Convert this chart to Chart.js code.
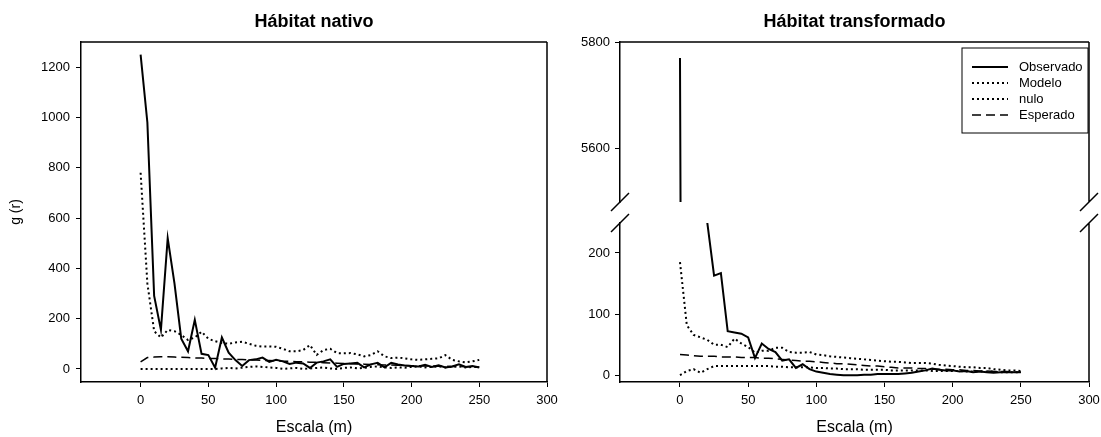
<!DOCTYPE html>
<html>
<head>
<meta charset="utf-8">
<title>g(r) - Hábitat nativo / transformado</title>
<script src="https://cdn.jsdelivr.net/npm/chart.js@4.4.1/dist/chart.umd.min.js"></script>
<style>
  html, body { margin: 0; padding: 0; background: #fff; }
  #wrap { position: relative; width: 1101px; height: 437px; }
  canvas { position: absolute; top: 0; }
  #nativo { left: 0; }
  #transformado { left: 560px; }
</style>
</head>
<body>
<div id="wrap">
  <canvas id="nativo" width="560" height="437"></canvas>
  <canvas id="transformado" width="541" height="437"></canvas>
</div>
<script>
// distance classes (m)
const escala = [0, 5, 10, 15, 20, 25, 30, 35, 40, 45, 50, 55, 60, 65, 70, 75, 80, 85, 90, 95,
  100, 105, 110, 115, 120, 125, 130, 135, 140, 145, 150, 155, 160, 165, 170, 175, 180, 185, 190, 195,
  200, 205, 210, 215, 220, 225, 230, 235, 240, 245, 250];

// Hábitat nativo
const nativoObservado = [1250, 980, 290, 155, 520, 340, 120, 70, 195, 60, 55, 5, 125, 65, 35, 12, 35, 38, 45, 28,
  36, 30, 20, 25, 22, 4, 25, 30, 38, 8, 20, 22, 24, 6, 18, 24, 6, 24, 18, 14,
  12, 10, 16, 8, 14, 6, 10, 18, 8, 12, 6];
const nativoModelo = [780, 340, 150, 125, 155, 150, 135, 115, 125, 148, 120, 110, 103, 100, 105, 108, 100, 92, 89, 89,
  88, 80, 70, 70, 75, 95, 56, 75, 80, 63, 62, 63, 58, 50, 55, 70, 50, 43, 45, 42,
  38, 36, 38, 40, 42, 55, 36, 30, 26, 30, 36];
const nativoNulo = [0, 0, 0, 0, 0, 0, 0, 0, 0, 0, 0, 0, 2, 4, 2, 5, 8, 10, 8, 6,
  4, 0, 2, 4, 0, 2, 4, 6, 2, 0, 4, 6, 2, 4, 8, 10, 6, 4, 6, 5,
  8, 10, 6, 8, 10, 6, 8, 10, 6, 8, 8];
const nativoEsperado = [28, 45, 47, 48, 48, 47, 46, 45, 44, 43, 42, 41, 40, 39, 38, 37, 36, 35, 34, 33,
  32, 31, 30, 29, 28, 27, 26, 25, 24, 23, 22, 21, 20, 19, 18, 17, 16, 16, 15, 14,
  13, 13, 12, 12, 11, 11, 10, 10, 9, 9, 8];

// Hábitat transformado
const transfObservado = [5770, 2400, 900, 420, 250, 163, 167, 72, 70, 68, 62, 28, 52, 43, 38, 24, 26, 12, 18, 10,
  6, 4, 2, 1, 0, 0, 0, 1, 1, 2, 2, 2, 2, 3, 4, 6, 8, 11, 9, 8,
  8, 6, 7, 5, 6, 5, 4, 5, 5, 5, 5];
const transfModelo = [185, 82, 66, 62, 58, 50, 50, 46, 60, 52, 46, 37, 40, 40, 45, 45, 38, 37, 37, 38,
  34, 33, 31, 30, 29, 28, 27, 26, 25, 24, 23, 22, 22, 21, 20, 20, 20, 19, 17, 16,
  15, 14, 13, 13, 12, 12, 10, 9, 8, 8, 7];
const transfNulo = [0, 7, 10, 4, 10, 15, 15, 15, 15, 15, 15, 15, 15, 15, 14, 14, 13, 13, 13, 13,
  12, 12, 11, 11, 10, 10, 10, 9, 9, 9, 9, 8, 8, 8, 8, 8, 8, 7, 7, 7,
  7, 7, 6, 6, 6, 6, 6, 5, 5, 5, 5];
const transfEsperado = [34, 33, 32, 31, 31, 31, 30, 30, 30, 29, 29, 29, 28, 28, 27, 26, 25, 24, 23, 23,
  22, 21, 20, 19, 19, 18, 17, 16, 15, 15, 14, 13, 12, 12, 12, 11, 11, 10, 10, 10,
  9, 9, 8, 8, 7, 7, 6, 6, 6, 5, 5];

const xTicks = { min: -44, max: 300, step: 50 };

Chart.defaults.font.family = "'Liberation Sans', Arial, Helvetica, sans-serif";
Chart.defaults.color = '#000';

function toPoints(ys) {
  return escala.map((x, i) => ({ x: x, y: ys[i] }));
}

const styles = {
  Observado: { borderColor: '#000', borderWidth: 2 },
  Modelo: { borderColor: '#000', borderWidth: 2, borderDash: [2, 3] },
  nulo: { borderColor: '#000', borderWidth: 2, borderDash: [2, 3] },
  Esperado: { borderColor: '#000', borderWidth: 1.5, borderDash: [9, 5] }
};

function serie(label, values, axis, extra) {
  return Object.assign({
    label: label,
    data: toPoints(values),
    yAxisID: axis,
    pointRadius: 0,
    pointHoverRadius: 0,
    tension: 0,
    fill: false
  }, styles[label], extra || {});
}

// plain numbers, no thousands separator
const plain = v => String(v);

// box lines on top / right, with axis break marks where needed
const framePlugin = {
  id: 'frame',
  afterDraw(chart, args, opts) {
    const ctx = chart.ctx;
    const a = chart.chartArea;
    ctx.save();
    ctx.strokeStyle = '#000';
    ctx.lineWidth = 1.5;
    ctx.beginPath();
    ctx.moveTo(a.left, a.top);
    ctx.lineTo(a.right, a.top);
    if (opts.broken) {
      const hi = chart.scales.yHigh;
      const lo = chart.scales.yLow;
      ctx.moveTo(a.right, hi.top);
      ctx.lineTo(a.right, hi.bottom);
      ctx.moveTo(a.right, lo.top);
      ctx.lineTo(a.right, lo.bottom);
      [a.left, a.right].forEach(function (x) {
        ctx.moveTo(x - 9, hi.bottom + 9);
        ctx.lineTo(x + 9, hi.bottom - 9);
        ctx.moveTo(x - 9, lo.top + 9);
        ctx.lineTo(x + 9, lo.top - 9);
      });
    } else {
      ctx.moveTo(a.right, a.top);
      ctx.lineTo(a.right, a.bottom);
    }
    ctx.stroke();
    ctx.restore();
  }
};

// legend drawn inside the plot, top right
const boxLegend = {
  id: 'boxLegend',
  afterDraw(chart, args, opts) {
    if (!opts.display) return;
    const ctx = chart.ctx;
    const a = chart.chartArea;
    const items = chart.data.datasets.filter(d => !d.noLegend);
    const right = a.right - 1;
    const left = right - 126;
    const top = a.top + 6;
    ctx.save();
    ctx.fillStyle = '#fff';
    ctx.fillRect(left, top, right - left, 85);
    ctx.strokeStyle = '#000';
    ctx.lineWidth = 1;
    ctx.strokeRect(left, top, right - left, 85);
    ctx.font = "13px 'Liberation Sans', Arial, sans-serif";
    ctx.textBaseline = 'middle';
    ctx.fillStyle = '#000';
    items.forEach(function (d, i) {
      const y = top + 19 + i * 16;
      ctx.setLineDash(d.borderDash || []);
      ctx.lineWidth = d.borderWidth;
      ctx.beginPath();
      ctx.moveTo(left + 10, y);
      ctx.lineTo(left + 46, y);
      ctx.stroke();
      ctx.setLineDash([]);
      ctx.fillText(d.label, left + 57, y);
    });
    ctx.restore();
  }
};

function xScale() {
  return {
    type: 'linear',
    min: xTicks.min,
    max: xTicks.max,
    border: { color: '#000', width: 1.5 },
    grid: { drawOnChartArea: false, tickLength: 5, color: '#000' },
    ticks: { stepSize: xTicks.step, includeBounds: false, padding: 6, maxRotation: 0, font: { size: 13 }, callback: plain },
    title: { display: true, text: 'Escala (m)', font: { size: 16 }, padding: { top: 0, bottom: 0 } },
    afterFit(s) {
      s.height = 55;
      // the layout padding already leaves room for the "300" label
      s.paddingLeft = 0;
      s.paddingRight = 0;
    }
  };
}

function yScale(min, max, step, width, extra) {
  return Object.assign({
    type: 'linear',
    position: 'left',
    min: min,
    max: max,
    border: { color: '#000', width: 1.5 },
    grid: { drawOnChartArea: false, tickLength: 5, color: '#000' },
    ticks: { stepSize: step, includeBounds: false, padding: 5, font: { size: 13 }, callback: plain },
    afterFit(s) { s.width = width; }
  }, extra || {});
}

function titleOpts(text) {
  return {
    display: true,
    text: text,
    fullSize: false,
    color: '#000',
    font: { size: 18, weight: 'bold' },
    padding: { top: 11, bottom: 9.4 }
  };
}

new Chart(document.getElementById('nativo'), {
  type: 'line',
  data: {
    datasets: [
      serie('Observado', nativoObservado, 'y'),
      serie('Modelo', nativoModelo, 'y'),
      serie('nulo', nativoNulo, 'y'),
      serie('Esperado', nativoEsperado, 'y')
    ]
  },
  options: {
    responsive: false,
    animation: false,
    events: [],
    layout: { padding: { left: 0, right: 13, top: 0, bottom: 0 } },
    scales: {
      x: xScale(),
      y: yScale(-52, 1300, 200, 81, {
        ticks: { stepSize: 200, includeBounds: false, padding: 6, font: { size: 13 }, callback: plain },
        title: { display: true, text: 'g (r)', font: { size: 14 }, padding: { top: 8, bottom: 0 } }
      })
    },
    plugins: {
      legend: { display: false },
      tooltip: { enabled: false },
      title: titleOpts('Hábitat nativo'),
      frame: { broken: false },
      boxLegend: { display: false }
    }
  },
  plugins: [framePlugin, boxLegend]
});

// left-side stacked scales are laid out in reverse order: lower part first
new Chart(document.getElementById('transformado'), {
  type: 'line',
  data: {
    datasets: [
      serie('Observado', transfObservado, 'yLow'),
      serie('Modelo', transfModelo, 'yLow'),
      serie('nulo', transfNulo, 'yLow'),
      serie('Esperado', transfEsperado, 'yLow'),
      serie('Observado', transfObservado, 'yHigh', { noLegend: true })
    ]
  },
  options: {
    responsive: false,
    animation: false,
    events: [],
    layout: { padding: { left: 0, right: 12, top: 0, bottom: 0 } },
    scales: {
      x: xScale(),
      yLow: yScale(-11, 249, 100, 60, { stack: 'g', stackWeight: 159 }),
      yGap: yScale(0, 1, 1, 60, {
        stack: 'g', stackWeight: 21,
        ticks: { display: false },
        grid: { display: false },
        border: { display: false }
      }),
      yHigh: yScale(5500, 5800, 200, 60, { stack: 'g', stackWeight: 160 })
    },
    plugins: {
      legend: { display: false },
      tooltip: { enabled: false },
      title: titleOpts('Hábitat transformado'),
      frame: { broken: true },
      boxLegend: { display: true }
    }
  },
  plugins: [framePlugin, boxLegend]
});
</script>
</body>
</html>
